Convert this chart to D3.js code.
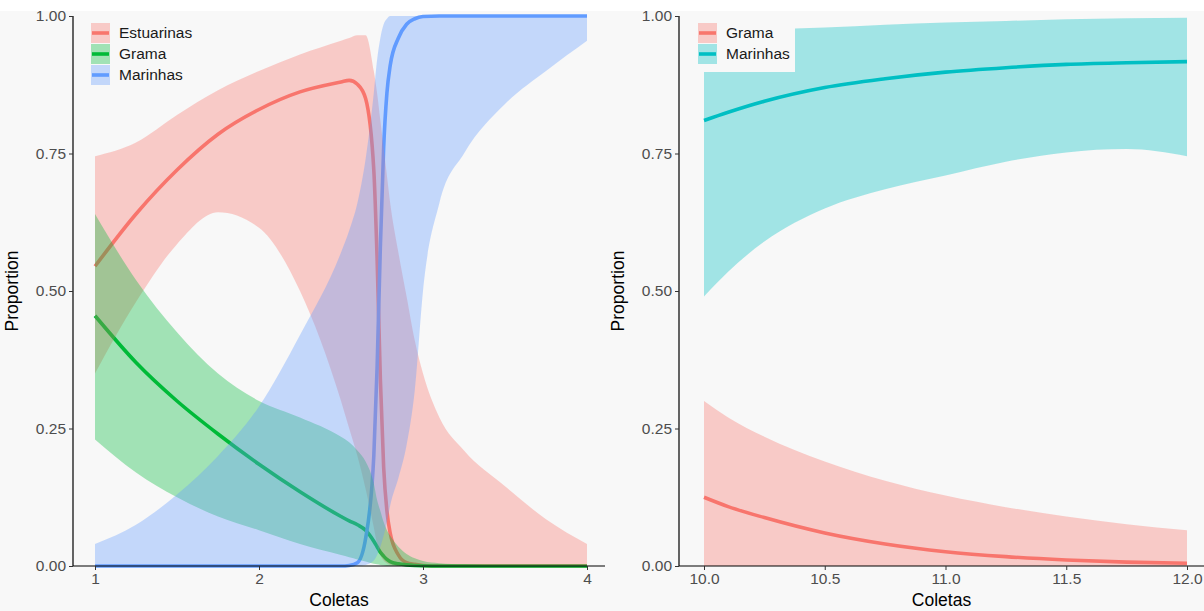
<!DOCTYPE html>
<html>
<head>
<meta charset="utf-8">
<script src="https://cdn.jsdelivr.net/npm/d3@7"></script>
<style>
  body { margin: 0; background: #f8f8f8; }
  svg { display: block; font-family: "Liberation Sans", Arial, sans-serif; }
</style>
</head>
<body>
<div id="chart"></div>
<script>
// ---- data: left panel (Coletas 1-4) ----
const coletasA = [1, 1.25, 1.5, 1.75, 2, 2.25, 2.5, 2.55, 2.6, 2.65, 2.7, 2.72, 2.74, 2.76, 2.78, 2.8, 2.85, 2.9, 2.95, 3, 3.1, 3.25, 3.5, 3.75, 4];

const estuarinasFit = [0.545, 0.64, 0.72, 0.785, 0.83, 0.862, 0.88, 0.883, 0.876, 0.85, 0.72, 0.56, 0.34, 0.18, 0.1, 0.06, 0.02, 0.006, 0.003, 0.001, 0, 0, 0, 0, 0];
const estuarinasLo  = [0.35, 0.48, 0.585, 0.643, 0.615, 0.5, 0.3, 0.25, 0.2, 0.14, 0.07, 0.04, 0.02, 0.01, 0.005, 0.002, 0, 0, 0, 0, 0, 0, 0, 0, 0];
const estuarinasHi  = [0.745, 0.77, 0.82, 0.865, 0.9, 0.93, 0.955, 0.96, 0.965, 0.965, 0.9, 0.86, 0.81, 0.76, 0.71, 0.66, 0.57, 0.49, 0.41, 0.35, 0.27, 0.21, 0.145, 0.085, 0.04];

const gramaFitA = [0.455, 0.37, 0.3, 0.24, 0.185, 0.135, 0.09, 0.082, 0.075, 0.065, 0.045, 0.035, 0.025, 0.018, 0.012, 0.008, 0.004, 0.002, 0.001, 0.0005, 0, 0, 0, 0, 0];
const gramaLoA  = [0.23, 0.17, 0.125, 0.09, 0.065, 0.04, 0.02, 0.016, 0.012, 0.008, 0.004, 0.003, 0.002, 0.001, 0, 0, 0, 0, 0, 0, 0, 0, 0, 0, 0];
const gramaHiA  = [0.64, 0.52, 0.425, 0.35, 0.3, 0.27, 0.235, 0.225, 0.21, 0.19, 0.15, 0.12, 0.1, 0.08, 0.065, 0.055, 0.035, 0.022, 0.014, 0.009, 0.005, 0.003, 0.001, 0.0005, 0];

const marinhasFitA = [0, 0, 0, 0, 0, 0, 0, 0.001, 0.006, 0.05, 0.2, 0.36, 0.58, 0.76, 0.86, 0.91, 0.96, 0.985, 0.995, 0.999, 1, 1, 1, 1, 1];
const marinhasLoA  = [0, 0, 0, 0, 0, 0, 0, 0, 0, 0.002, 0.01, 0.02, 0.035, 0.055, 0.08, 0.11, 0.16, 0.22, 0.32, 0.5, 0.66, 0.75, 0.84, 0.9, 0.955];
const marinhasHiA  = [0.04, 0.075, 0.13, 0.2, 0.29, 0.42, 0.57, 0.61, 0.66, 0.74, 0.86, 0.92, 0.96, 0.985, 0.995, 1, 1, 1, 1, 1, 1, 1, 1, 1, 1];

// ---- data: right panel (Coletas 10-12) ----
const coletasB = [10, 10.1, 10.25, 10.5, 10.75, 11, 11.25, 11.5, 11.75, 12];

const gramaFitB = [0.125, 0.108, 0.088, 0.06, 0.04, 0.026, 0.017, 0.011, 0.007, 0.005];
const gramaLoB  = [0, 0, 0, 0, 0, 0, 0, 0, 0, 0];
const gramaHiB  = [0.3, 0.27, 0.235, 0.19, 0.155, 0.128, 0.107, 0.09, 0.076, 0.065];

const marinhasFitB = [0.81, 0.825, 0.845, 0.87, 0.886, 0.898, 0.906, 0.912, 0.915, 0.917];
const marinhasLoB  = [0.49, 0.535, 0.59, 0.65, 0.685, 0.71, 0.735, 0.752, 0.758, 0.745];
const marinhasHiB  = [0.97, 0.972, 0.975, 0.979, 0.984, 0.988, 0.991, 0.994, 0.996, 0.997];

const yTicks = [0, 0.25, 0.5, 0.75, 1];
const xTicksA = [1, 2, 3, 4];
const xTicksB = [10, 10.5, 11, 11.5, 12];

const width = 1204, height = 611;

const svg = d3.select("#chart").append("svg")
  .attr("width", width)
  .attr("height", height);

svg.append("rect").attr("width", width).attr("height", height).attr("fill", "#f8f8f8");
svg.append("rect").attr("width", width).attr("height", 11).attr("fill", "#ffffff");

function series(name, color, xs, fit, lo, hi) {
  return { name: name, color: color, rows: xs.map((x, i) => ({ x: x, fit: fit[i], lo: lo[i], hi: hi[i] })) };
}

const panels = [
  {
    axisX0: 73, axisX1: 605, domain: [1, 4], range: [95, 587], ticks: xTicksA, fmt: d3.format("d"),
    legend: { x: 91, y: 23, w: 110 },
    groups: [
      series("Estuarinas", "#F8766D", coletasA, estuarinasFit, estuarinasLo, estuarinasHi),
      series("Grama", "#00BA38", coletasA, gramaFitA, gramaLoA, gramaHiA),
      series("Marinhas", "#619CFF", coletasA, marinhasFitA, marinhasLoA, marinhasHiA)
    ]
  },
  {
    axisX0: 679, axisX1: 1210, domain: [10, 12], range: [704, 1187], ticks: xTicksB, fmt: d3.format(".1f"),
    legend: { x: 698, y: 23, w: 102 },
    groups: [
      series("Grama", "#F8766D", coletasB, gramaFitB, gramaLoB, gramaHiB),
      series("Marinhas", "#00BFC4", coletasB, marinhasFitB, marinhasLoB, marinhasHiB)
    ]
  }
];

const y = d3.scaleLinear().domain([0, 1]).range([566, 16]);

panels.forEach(function (p) {
  const x = d3.scaleLinear().domain(p.domain).range(p.range);
  const g = svg.append("g");

  const line = d3.line().x(d => x(d.x)).y(d => y(d.fit)).curve(d3.curveMonotoneX);
  const area = d3.area().x(d => x(d.x)).y0(d => y(d.lo)).y1(d => y(d.hi)).curve(d3.curveMonotoneX);

  // lines first, ribbons drawn over them
  p.groups.forEach(function (s) {
    g.append("path").datum(s.rows)
      .attr("d", line)
      .attr("fill", "none")
      .attr("stroke", s.color)
      .attr("stroke-width", 3.6)
      .attr("stroke-linejoin", "round");
  });
  p.groups.forEach(function (s) {
    g.append("path").datum(s.rows)
      .attr("d", area)
      .attr("fill", s.color)
      .attr("fill-opacity", 0.35);
  });

  // legend
  const lg = svg.append("g").attr("transform", "translate(" + p.legend.x + "," + p.legend.y + ")");
  lg.append("rect")
    .attr("x", -5).attr("y", -5)
    .attr("width", p.legend.w).attr("height", p.groups.length * 21 + 12)
    .attr("fill", "#f8f8f8");
  p.groups.forEach(function (s, i) {
    const row = lg.append("g").attr("transform", "translate(0," + (i * 21) + ")");
    row.append("rect").attr("width", 19).attr("height", 20).attr("fill", s.color).attr("fill-opacity", 0.35);
    row.append("line").attr("x1", 1).attr("x2", 18).attr("y1", 10).attr("y2", 10)
      .attr("stroke", s.color).attr("stroke-width", 3.6);
    row.append("text").attr("x", 28).attr("y", 10).attr("dy", "0.35em")
      .attr("font-size", 15.5).attr("fill", "#1a1a1a").text(s.name);
  });

  // axes
  const yAxis = d3.axisLeft(y).tickValues(yTicks).tickFormat(d3.format(".2f")).tickSize(4).tickPadding(3);
  const ya = svg.append("g").attr("transform", "translate(" + p.axisX0 + ",0)").call(yAxis);
  ya.select(".domain").attr("d", "M0,16V566").attr("stroke", "#000").attr("stroke-width", 1.2);

  const xAxis = d3.axisBottom(x).tickValues(p.ticks).tickFormat(p.fmt).tickSize(4).tickPadding(3);
  const xa = svg.append("g").attr("transform", "translate(0,566)").call(xAxis);
  xa.select(".domain").attr("d", "M" + p.axisX0 + ",0H" + p.axisX1).attr("stroke", "#000").attr("stroke-width", 1.2);

  [ya, xa].forEach(function (a) {
    a.selectAll(".tick line").attr("stroke", "#333");
    a.selectAll(".tick text").attr("font-size", 15.5).attr("fill", "#4d4d4d")
      .attr("font-family", "Liberation Sans, Arial, sans-serif");
  });

  svg.append("text")
    .attr("transform", "translate(" + (p.axisX0 - 55) + ",291) rotate(-90)")
    .attr("text-anchor", "middle")
    .attr("font-size", 17.5).attr("fill", "#000")
    .text("Proportion");

  svg.append("text")
    .attr("x", (p.axisX0 + Math.min(p.axisX1, width)) / 2)
    .attr("y", 606)
    .attr("text-anchor", "middle")
    .attr("font-size", 17.5).attr("fill", "#000")
    .text("Coletas");
});
</script>
</body>
</html>
